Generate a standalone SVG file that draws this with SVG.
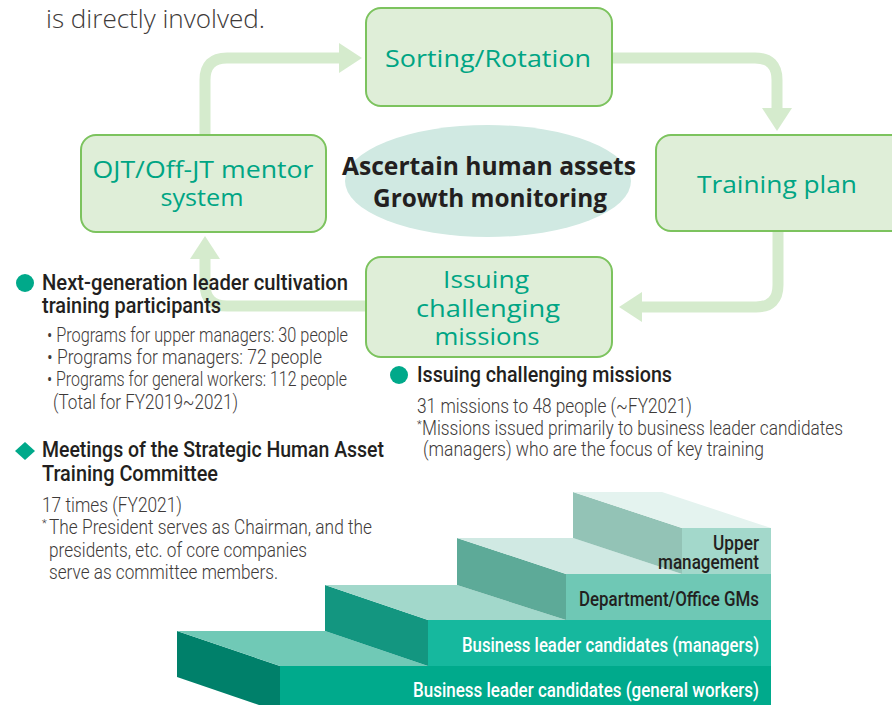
<svg xmlns="http://www.w3.org/2000/svg" width="892" height="705" viewBox="0 0 892 705">
<defs>
<marker id="ah" viewBox="0 0 23 30" markerWidth="23" markerHeight="30" refX="0" refY="15" orient="auto" markerUnits="userSpaceOnUse">
<path d="M0,0 L23,15 L0,30 Z" fill="#d5ebcd"/>
</marker>
</defs>
<style>
.box{fill:#dfeed8;stroke:#7cc35e;stroke-width:2}
.bt{font-family:"Open Sans","Noto Sans",sans-serif;font-size:23px;fill:#00a584;text-anchor:middle}
.conn{fill:none;stroke:#d5ebcd;stroke-width:11;marker-end:url(#ah)}
.hd{font-family:"Liberation Sans Narrow","Roboto","Liberation Sans",sans-serif;font-size:22px;font-weight:500;fill:#231f20}
.tx{font-family:"Liberation Sans Narrow","Roboto","Liberation Sans",sans-serif;font-size:20px;font-weight:300;fill:#3e3a39}
.st{font-family:"Liberation Sans Narrow","Roboto","Liberation Sans",sans-serif;font-size:21px;font-weight:500;text-anchor:end}
.teal{fill:#00a98a}
</style>

<text x="46" y="28" font-family="Open Sans,Noto Sans,sans-serif" font-size="25" font-weight="300" fill="#3e3a39" textLength="219" lengthAdjust="spacingAndGlyphs">is directly involved.</text>

<g id="connectors">
<path class="conn" d="M205,135 V80 Q205,58 227,58 H339"/>
<path class="conn" d="M612,58 H755 Q777,58 777,80 V108"/>
<path class="conn" d="M778,231 V285 Q778,307 756,307 H642"/>
<path class="conn" d="M366,306 H227 Q205,306 205,284 V259"/>
</g>

<g id="center">
<ellipse cx="488" cy="181" rx="143" ry="56" fill="#d0e9e2"/>
<text x="489" y="175" font-family="Open Sans,Noto Sans,sans-serif" font-size="25" font-weight="bold" fill="#231f20" text-anchor="middle" textLength="294" lengthAdjust="spacingAndGlyphs">Ascertain human assets</text>
<text x="490" y="207" font-family="Open Sans,Noto Sans,sans-serif" font-size="25" font-weight="bold" fill="#231f20" text-anchor="middle" textLength="234" lengthAdjust="spacingAndGlyphs">Growth monitoring</text>
</g>

<g id="sorting">
<rect class="box" x="366" y="8" width="246" height="98" rx="15"/>
<text class="bt" x="488" y="67" textLength="206" lengthAdjust="spacingAndGlyphs">Sorting/Rotation</text>
</g>

<g id="training">
<rect class="box" x="656" y="135" width="250" height="96" rx="15"/>
<text class="bt" x="777" y="193" textLength="160" lengthAdjust="spacingAndGlyphs">Training plan</text>
</g>

<g id="issuing">
<rect class="box" x="366" y="257" width="246" height="100" rx="15"/>
<text class="bt" x="486" y="288" textLength="86" lengthAdjust="spacingAndGlyphs">Issuing</text>
<text class="bt" x="488" y="317" textLength="144" lengthAdjust="spacingAndGlyphs">challenging</text>
<text class="bt" x="487" y="345" textLength="105" lengthAdjust="spacingAndGlyphs">missions</text>
</g>

<g id="ojt">
<rect class="box" x="81" y="135" width="245" height="97" rx="15"/>
<text class="bt" x="203" y="178" textLength="221" lengthAdjust="spacingAndGlyphs">OJT/Off-JT mentor</text>
<text class="bt" x="202" y="206" textLength="83" lengthAdjust="spacingAndGlyphs">system</text>
</g>

<g id="notes">
<circle class="teal" cx="25" cy="283" r="9"/>
<text class="hd" x="42" y="290" textLength="306" lengthAdjust="spacingAndGlyphs">Next-generation leader cultivation</text>
<text class="hd" x="42" y="313" textLength="179" lengthAdjust="spacingAndGlyphs">training participants</text>
<text class="tx" x="47" y="342" textLength="301" lengthAdjust="spacingAndGlyphs">• Programs for upper managers: 30 people</text>
<text class="tx" x="47" y="364" textLength="275" lengthAdjust="spacingAndGlyphs">• Programs for managers: 72 people</text>
<text class="tx" x="47" y="386" textLength="300" lengthAdjust="spacingAndGlyphs">• Programs for general workers: 112 people</text>
<text class="tx" x="53" y="409" textLength="185" lengthAdjust="spacingAndGlyphs">(Total for FY2019~2021)</text>

<path class="teal" d="M15,451 L25,442 L35,451 L25,460 Z"/>
<text class="hd" x="42" y="457" textLength="342" lengthAdjust="spacingAndGlyphs">Meetings of the Strategic Human Asset</text>
<text class="hd" x="42" y="481" textLength="176" lengthAdjust="spacingAndGlyphs">Training Committee</text>
<text class="tx" x="42" y="512" textLength="140" lengthAdjust="spacingAndGlyphs">17 times (FY2021)</text>
<text class="tx" x="42" y="534"><tspan font-size="11" dy="-7">*</tspan><tspan dy="7" x="49" textLength="323" lengthAdjust="spacingAndGlyphs">The President serves as Chairman, and the</tspan></text>
<text class="tx" x="49" y="557" textLength="258" lengthAdjust="spacingAndGlyphs">presidents, etc. of core companies</text>
<text class="tx" x="49" y="579" textLength="229" lengthAdjust="spacingAndGlyphs">serve as committee members.</text>

<circle class="teal" cx="399" cy="375" r="9"/>
<text class="hd" x="417" y="382" textLength="255" lengthAdjust="spacingAndGlyphs">Issuing challenging missions</text>
<text class="tx" x="417" y="413" textLength="275" lengthAdjust="spacingAndGlyphs">31 missions to 48 people (~FY2021)</text>
<text class="tx" x="417" y="435"><tspan font-size="11" dy="-7">*</tspan><tspan dy="7" x="422" textLength="421" lengthAdjust="spacingAndGlyphs">Missions issued primarily to business leader candidates</tspan></text>
<text class="tx" x="423" y="456" textLength="341" lengthAdjust="spacingAndGlyphs">(managers) who are the focus of key training</text>
</g>

<g id="stairs">
<polygon points="177,631 280,666 280,705 259,705 177,677" fill="#00806a"/>
<polygon points="177,631 325,631 428,666 280,666" fill="#70c9b6"/>
<rect x="280" y="666" width="491" height="39" fill="#00aa8c"/>
<polygon points="325,585 428,620 428,666 325,631" fill="#139680"/>
<polygon points="325,585 457,585 566,620 428,620" fill="#a2d8cb"/>
<rect x="428" y="620" width="343" height="46" fill="#16b89e"/>
<polygon points="457,538 566,574 566,620 457,585" fill="#5daa98"/>
<polygon points="457,538 573,538 682,574 566,574" fill="#d0e9e3"/>
<rect x="566" y="574" width="205" height="46" fill="#6fc8b5"/>
<polygon points="573,492 682,528 682,574 573,538" fill="#93c3b6"/>
<polygon points="573,492 662,492 771,528 682,528" fill="#e4f3ef"/>
<rect x="682" y="528" width="89" height="46" fill="#a3d8cb"/>
<text class="st" x="759" y="697" fill="#ffffff" textLength="346" lengthAdjust="spacingAndGlyphs">Business leader candidates (general workers)</text>
<text class="st" x="759" y="652" fill="#ffffff" textLength="297" lengthAdjust="spacingAndGlyphs">Business leader candidates (managers)</text>
<text class="st" x="759" y="606" fill="#231f20" textLength="180" lengthAdjust="spacingAndGlyphs">Department/Office GMs</text>
<text class="st" x="759" y="550" fill="#231f20" font-size="18" textLength="46" lengthAdjust="spacingAndGlyphs">Upper</text>
<text class="st" x="759" y="569" fill="#231f20" font-size="18" textLength="101" lengthAdjust="spacingAndGlyphs">management</text>
</g>
</svg>
